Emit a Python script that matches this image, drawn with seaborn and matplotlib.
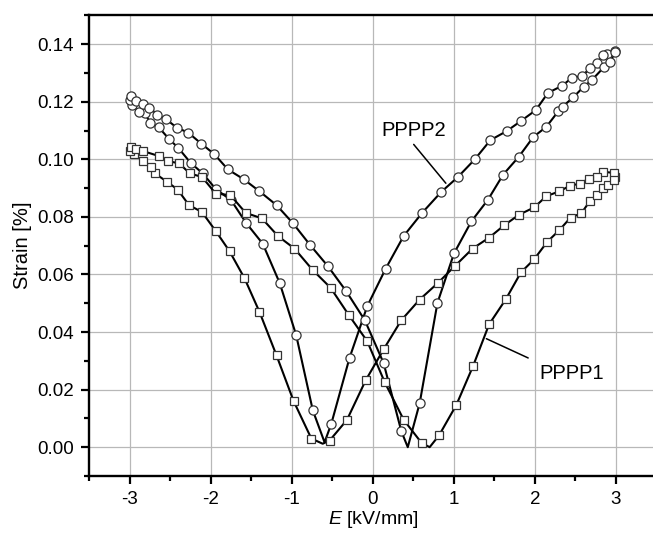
import numpy as np
import pandas as pd
import seaborn as sns
import matplotlib.pyplot as plt
from matplotlib.ticker import MultipleLocator, FormatStrFormatter

# PPPP2 loop (circles): E going down from +3 to -3, then back up to +3
p2_E = [2.985, 2.885, 2.843, 2.76, 2.68, 2.576, 2.46, 2.33, 2.16, 2.01, 1.83, 1.65, 1.45, 1.257,
        1.05, 0.84, 0.61, 0.38, 0.157, -0.07, -0.289, -0.514, -0.597, -0.742, -0.947, -1.15,
        -1.36, -1.565, -1.75, -1.94, -2.10, -2.25, -2.40, -2.52, -2.645, -2.75, -2.81, -2.89,
        -2.97, -3.0,
        -2.99, -2.93, -2.84, -2.76, -2.66, -2.55, -2.42, -2.28, -2.12, -1.957, -1.79, -1.595,
        -1.40, -1.19, -0.99, -0.774, -0.556, -0.33, -0.10, 0.132, 0.35, 0.43, 0.577, 0.796,
        1.0, 1.216, 1.42, 1.607, 1.80, 1.98, 2.14, 2.29, 2.34, 2.47, 2.6, 2.70, 2.85, 2.93, 2.99]
p2_S = [0.1377, 0.1366, 0.1362, 0.1334, 0.1316, 0.1289, 0.1284, 0.1255, 0.1231, 0.1171, 0.1134,
        0.1098, 0.1067, 0.1000, 0.0939, 0.0886, 0.0815, 0.0734, 0.0620, 0.0490, 0.0310, 0.0081,
        0.0017, 0.0128, 0.0389, 0.0570, 0.0707, 0.0779, 0.0858, 0.0897, 0.0951, 0.0988, 0.1039,
        0.1072, 0.1112, 0.1126, 0.1160, 0.1165, 0.1190, 0.1205,
        0.1220, 0.1203, 0.1192, 0.1180, 0.1155, 0.1139, 0.1110, 0.1093, 0.1055, 0.1018, 0.0965,
        0.0931, 0.0889, 0.0841, 0.0779, 0.0702, 0.0629, 0.0542, 0.0441, 0.0292, 0.0056, 0.0000,
        0.0153, 0.0501, 0.0673, 0.0785, 0.0860, 0.0947, 0.1009, 0.1078, 0.1113, 0.1168, 0.1183,
        0.1215, 0.1252, 0.1275, 0.1320, 0.1339, 0.1374]
p2_vertex_only = [22, 61]   # turning points drawn without a marker

# PPPP1 loop (squares)
p1_E = [2.99, 2.97, 2.84, 2.76, 2.666, 2.555, 2.43, 2.30, 2.14, 1.99, 1.805, 1.62, 1.434, 1.23,
        1.01, 0.80, 0.577, 0.35, 0.132, -0.09, -0.32, -0.535, -0.62, -0.76, -0.98, -1.19, -1.40,
        -1.585, -1.77, -1.94, -2.11, -2.27, -2.41, -2.54, -2.69, -2.74, -2.84, -2.95, -3.0,
        -2.99, -2.93, -2.84, -2.635, -2.53, -2.39, -2.26, -2.11, -1.94, -1.76, -1.57, -1.37,
        -1.17, -0.968, -0.745, -0.523, -0.30, -0.07, 0.145, 0.38, 0.60, 0.70, 0.816, 1.03,
        1.236, 1.434, 1.64, 1.826, 1.99, 2.15, 2.30, 2.44, 2.57, 2.68, 2.76, 2.84, 2.90, 2.97]
p1_S = [0.0939, 0.0953, 0.0957, 0.0937, 0.0933, 0.0916, 0.0908, 0.0889, 0.0872, 0.0833, 0.0808,
        0.0771, 0.0728, 0.0690, 0.0629, 0.0570, 0.0513, 0.0441, 0.0340, 0.0232, 0.0095, 0.0023,
        0.0012, 0.0030, 0.0161, 0.0319, 0.0470, 0.0587, 0.0681, 0.0751, 0.0817, 0.0841, 0.0895,
        0.0922, 0.0951, 0.0972, 0.0995, 0.1018, 0.1030,
        0.1043, 0.1035, 0.1029, 0.1011, 0.0994, 0.0986, 0.0951, 0.0939, 0.0881, 0.0876, 0.0814,
        0.0795, 0.0733, 0.0690, 0.0616, 0.0554, 0.0460, 0.0368, 0.0226, 0.0095, 0.0015, 0.0000,
        0.0041, 0.0147, 0.0282, 0.0427, 0.0514, 0.0607, 0.0653, 0.0713, 0.0754, 0.0798, 0.0812,
        0.0856, 0.0875, 0.0899, 0.0910, 0.0930]
p1_vertex_only = [22, 60]

labels = ["PPPP2", "PPPP1"]
label_pos = [(0.50, 0.110), (2.45, 0.0255)]
leader_E = [(0.503, 0.90), (1.40, 1.916)]
leader_S = [(0.1052, 0.0917), (0.0377, 0.0310)]

sns.set_style("ticks")
plt.rcParams['font.family'] = ['Liberation Sans', 'DejaVu Sans']
plt.rcParams['mathtext.fontset'] = 'custom'
plt.rcParams['mathtext.it'] = 'Liberation Sans:italic'
plt.rcParams['mathtext.rm'] = 'Liberation Sans'
plt.rcParams['axes.unicode_minus'] = False

fig = plt.figure(figsize=(6.53, 5.33), dpi=100)
ax = fig.add_axes([0.1368, 0.107, 0.8686, 0.864])

for E, S, skip, mk, ms in [(p2_E, p2_S, p2_vertex_only, 'o', 6.6),
                            (p1_E, p1_S, p1_vertex_only, 's', 5.7)]:
    df = pd.DataFrame({'E': E, 'S': S})
    every = [i for i in range(len(E)) if i not in skip]
    sns.lineplot(data=df, x='E', y='S', sort=False, estimator=None, ax=ax,
                 color='black', lw=1.5, marker=mk, markersize=ms, markevery=every,
                 mfc='white', mec='#333333', mew=0.9, zorder=3)

for (tx, ty), lab, le, ls in zip(label_pos, labels, leader_E, leader_S):
    ax.text(tx, ty, lab, fontsize=14.5, ha='center', va='center', color='black')
    ax.plot(le, ls, color='black', lw=1.1)

ax.set_xlim(-3.5, 3.5)
ax.set_ylim(-0.01, 0.15)
ax.xaxis.set_major_locator(MultipleLocator(1))
ax.xaxis.set_minor_locator(MultipleLocator(0.5))
ax.yaxis.set_major_locator(MultipleLocator(0.02))
ax.yaxis.set_minor_locator(MultipleLocator(0.01))
ax.yaxis.set_major_formatter(FormatStrFormatter('%.2f'))
ax.grid(True, which='major', color='#b8b8b8', lw=0.9)
ax.set_axisbelow(True)

ax.tick_params(which='major', direction='out', length=6, width=1.6, labelsize=13.5, pad=5,
               color='black', labelcolor='black')
ax.tick_params(which='minor', direction='out', length=3.5, width=1.6, color='black')
for side in ['left', 'bottom', 'top']:
    ax.spines[side].set_linewidth(1.7)
    ax.spines[side].set_color('black')
ax.spines['right'].set_visible(False)

ax.set_xlabel('$E$ [kV/mm]', fontsize=14, labelpad=0.5, color='black')
ax.set_ylabel('Strain [%]', fontsize=14.5, labelpad=4, color='black')

fig.savefig('out.png', dpi=100)
